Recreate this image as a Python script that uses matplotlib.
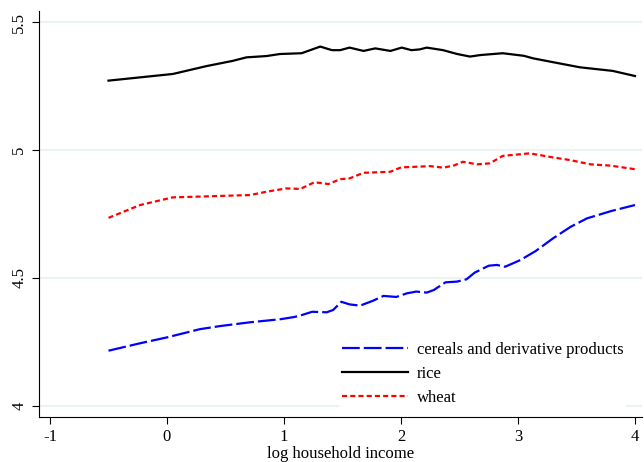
import matplotlib
matplotlib.use("Agg")
import matplotlib.pyplot as plt

plt.rcParams['font.family'] = ['Liberation Serif', 'DejaVu Serif']

# readings
cereal_x = [-0.5, -0.23, 0.0, 0.28, 0.45, 0.71, 0.97, 1.08, 1.137, 1.24, 1.365, 1.42, 1.49,
            1.56, 1.65, 1.76, 1.85, 1.96, 2.05, 2.13, 2.22, 2.28, 2.38, 2.48, 2.56, 2.63,
            2.75, 2.82, 2.89, 3.02, 3.15, 3.30, 3.45, 3.59, 3.8, 4.0]
cereal_y = [4.216, 4.245, 4.268, 4.300, 4.312, 4.327, 4.339, 4.347, 4.353, 4.368, 4.366,
            4.375, 4.407, 4.397, 4.392, 4.411, 4.430, 4.426, 4.440, 4.447, 4.443, 4.453,
            4.483, 4.486, 4.495, 4.521, 4.548, 4.551, 4.544, 4.570, 4.605, 4.655, 4.700,
            4.733, 4.762, 4.785]

rice_x = [-0.5, 0.05, 0.34, 0.56, 0.68, 0.85, 0.966, 1.15, 1.31, 1.41, 1.48, 1.56, 1.68,
          1.78, 1.91, 2.006, 2.09, 2.16, 2.22, 2.36, 2.48, 2.59, 2.68, 2.87, 3.05, 3.13,
          3.30, 3.53, 3.81, 4.0]
rice_y = [5.271, 5.297, 5.328, 5.348, 5.362, 5.367, 5.375, 5.378, 5.404, 5.390, 5.390,
          5.400, 5.387, 5.397, 5.387, 5.400, 5.390, 5.393, 5.400, 5.390, 5.375, 5.365,
          5.371, 5.378, 5.368, 5.358, 5.343, 5.323, 5.309, 5.289]

wheat_x = [-0.5, -0.23, 0.05, 0.28, 0.56, 0.71, 0.85, 1.02, 1.14, 1.26, 1.38, 1.48, 1.56,
           1.68, 1.91, 2.0, 2.25, 2.36, 2.45, 2.53, 2.65, 2.76, 2.87, 3.10, 3.30, 3.44,
           3.62, 3.79, 4.0]
wheat_y = [4.735, 4.785, 4.815, 4.818, 4.822, 4.824, 4.837, 4.850, 4.848, 4.874, 4.867,
           4.886, 4.889, 4.911, 4.915, 4.932, 4.937, 4.931, 4.939, 4.954, 4.944, 4.948,
           4.977, 4.987, 4.971, 4.961, 4.944, 4.939, 4.925]

xticks = [-1, 0, 1, 2, 3, 4]
yticks = [4, 4.5, 5, 5.5]
ytick_labels = ['4', '4.5', '5', '5.5']

fig = plt.figure(figsize=(6.44, 4.62), dpi=100)
ax = fig.add_axes([39 / 644, 45 / 462, (642 - 39) / 644, (451 - 45) / 462])

for y in yticks:
    ax.axhline(y, color='#eaf2f3', linewidth=1.5, zorder=0)

line_kw = dict(linewidth=1.6, solid_joinstyle='round', dash_joinstyle='round')
ax.plot(cereal_x, cereal_y, color='#0000ff', dashes=(8, 1.8),
        label='cereals and derivative products', **line_kw)
ax.plot(rice_x, rice_y, color='black', label='rice', **line_kw)
ax.plot(wheat_x, wheat_y, color='#ff0000', dashes=(2.3, 1.4), label='wheat', **line_kw)

ax.set_xlim(-1.094, 4.06)
ax.set_ylim(3.957, 5.543)
ax.set_xticks(xticks)
ax.set_xticklabels([str(t) for t in xticks])
ax.set_yticks(yticks)
ax.set_yticklabels(ytick_labels, rotation=90, va='center')
ax.tick_params(labelsize=12, length=5, direction='out')
ax.spines['top'].set_visible(False)
ax.spines['right'].set_visible(False)
ax.set_xlabel('log household income', fontsize=12, labelpad=1)

leg = ax.legend(loc='lower right', bbox_to_anchor=(0.987, 0.0), frameon=True, fontsize=12,
                handlelength=4.0, handletextpad=0.5, labelspacing=0.5, borderpad=0.15)
leg.get_frame().set_edgecolor('none')
leg.get_frame().set_facecolor('white')
leg.get_frame().set_alpha(1)

fig.savefig('out.png', dpi=100)
